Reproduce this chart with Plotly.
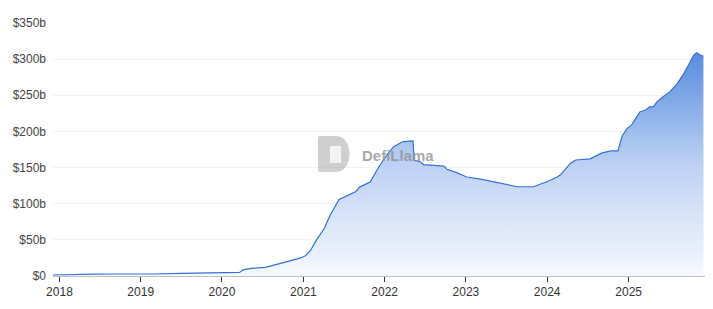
import plotly.graph_objects as go

dates = [
    "2017-12-03", "2018-03-01", "2018-06-01", "2018-09-01", "2018-12-01",
    "2019-03-01", "2019-07-01", "2019-12-25", "2020-03-20", "2020-04-05",
    "2020-05-10", "2020-07-15", "2020-09-20", "2020-11-01", "2020-12-20",
    "2021-01-10", "2021-02-01", "2021-03-01", "2021-04-05", "2021-05-01",
    "2021-06-10", "2021-07-20", "2021-08-25", "2021-09-10", "2021-10-28",
    "2021-11-28", "2022-01-05", "2022-02-10", "2022-03-10", "2022-03-25",
    "2022-05-08", "2022-05-14", "2022-06-10", "2022-06-25", "2022-09-25",
    "2022-10-08", "2022-11-20", "2023-01-05", "2023-03-08", "2023-05-20",
    "2023-08-20", "2023-10-30", "2023-12-28", "2024-02-15", "2024-03-01",
    "2024-04-15", "2024-05-08", "2024-07-12", "2024-08-03", "2024-09-01",
    "2024-10-12", "2024-11-14", "2024-12-02", "2024-12-24", "2025-01-15",
    "2025-02-20", "2025-03-20", "2025-04-05", "2025-04-22", "2025-05-08",
    "2025-06-05", "2025-07-06", "2025-08-08", "2025-09-06", "2025-09-27",
    "2025-10-20", "2025-11-03", "2025-11-18", "2025-12-03",
]
mcap_b = [
    1.4, 2.3, 2.6, 2.8, 2.5,
    2.8, 3.5, 4.5, 5.0, 8.5,
    10.5, 12, 18, 21, 25,
    28, 35, 50, 66, 84,
    106, 112, 117, 123, 130,
    147, 165, 179, 184, 186,
    187, 160, 158, 154, 152,
    147.6, 143, 137, 134, 129,
    123.5, 123.5, 130, 137, 140,
    156, 160.5, 162, 165, 170,
    173, 173, 193, 204, 209,
    227, 230, 234, 234, 241,
    248, 255, 266.6, 280, 292,
    305.7, 309, 305.7, 304,
]
y_ticks_b = [0, 50, 100, 150, 200, 250, 300, 350]
y_tick_text = ["$0", "$50b", "$100b", "$150b", "$200b", "$250b", "$300b", "$350b"]

values = [v * 1e9 for v in mcap_b]

fig = go.Figure()
fig.add_trace(go.Scatter(
    x=dates, y=values, mode="lines",
    line=dict(color="rgb(50,112,218)", width=1.2),
    fill="tozeroy",
    fillgradient=dict(
        type="vertical",
        start=0, stop=max(values),
        colorscale=[[0, "rgba(246,249,255,1)"], [0.5, "rgb(188,209,243)"], [1, "rgb(88,140,222)"]],
    ),
    hoverinfo="skip",
))

# watermark (pixel -> paper helpers)
L, R, T, B = 53, 705, 23, 276
def px(x):
    return (x - L) / (R - L)
def py(y):
    return (B - y) / (B - T)

x0, x1, y0, y1 = 318, 353, 136, 172
path = (f"M {px(x0+4)},{py(y0)} L {px(x0+18)},{py(y0)} "
        f"C {px(x1+1)},{py(y0)} {px(x1+1)},{py(y1)} {px(x0+18)},{py(y1)} "
        f"L {px(x0+4)},{py(y1)} C {px(x0)},{py(y1)} {px(x0)},{py(y1)} {px(x0)},{py(y1-4)} "
        f"L {px(x0)},{py(y0+4)} C {px(x0)},{py(y0)} {px(x0)},{py(y0)} {px(x0+4)},{py(y0)} Z")
shapes = [dict(type="path", xref="paper", yref="paper", path=path,
               fillcolor="rgba(175,175,175,0.6)", line=dict(width=0), layer="above")]
# llama head hint
shapes.append(dict(type="rect", xref="paper", yref="paper",
                   x0=px(330), x1=px(341), y0=py(163), y1=py(146),
                   fillcolor="rgba(255,255,255,0.75)", line=dict(width=0), layer="above"))

fig.update_layout(
    width=713, height=309,
    margin=dict(l=L, r=713 - R, t=T, b=309 - B),
    paper_bgcolor="white", plot_bgcolor="white",
    showlegend=False,
    font=dict(family="Liberation Sans, Arial, sans-serif", size=12, color="#444"),
    shapes=shapes,
    annotations=[dict(text="<b>DefiLlama</b>", xref="paper", yref="paper",
                      x=px(397.5), y=py(155), showarrow=False,
                      font=dict(size=15, color="rgba(140,140,140,0.75)",
                                family="Liberation Sans, Arial, sans-serif"))],
    xaxis=dict(
        type="date", range=["2017-12-03", "2025-12-10"],
        tick0="2018-01-01", dtick="M12", tickformat="%Y",
        showgrid=False, showline=True, linecolor="rgb(190,190,190)", linewidth=1,
        ticks="outside", ticklen=5, tickcolor="#333",
        tickfont=dict(size=12, color="#333"),
        zeroline=False,
    ),
    yaxis=dict(
        range=[0, 350e9],
        tickvals=[v * 1e9 for v in y_ticks_b], ticktext=y_tick_text,
        showgrid=True, gridcolor="rgb(242,242,242)", gridwidth=1,
        zeroline=False, showline=False, ticks="",
        ticklabelstandoff=6,
        tickfont=dict(size=12, color="#444"),
    ),
)

fig.write_html("out.html")
